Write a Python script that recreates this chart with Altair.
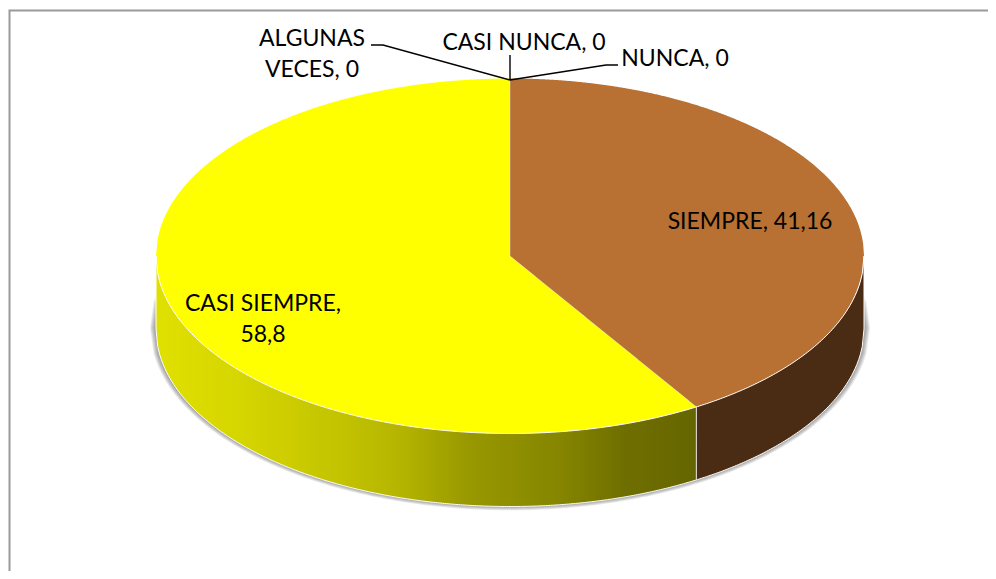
import math
import altair as alt
import pandas as pd

# Data
categories = ["SIEMPRE", "CASI SIEMPRE", "ALGUNAS\nVECES", "CASI NUNCA", "NUNCA"]
values = [41.16, 58.8, 0, 0, 0]
value_labels = ["41,16", "58,8", "0", "0", "0"]
label_x = [750, 263, 312, 524, 675]
label_y = [222, 304, 39, 43, 59]
slice_colors = ["#B87033", "#FFFF00"]
wall_dark = "#4A2B13"
gradient_offsets = [0, 0.15, 0.35, 0.45, 0.58, 0.75, 0.87, 1]
gradient_colors = ["#E0E000", "#D6D600", "#C2C200", "#B5B500", "#989800", "#858500", "#6E6E00", "#666600"]
leader_x = [[371, 383, 510], [510, 510], [510, 606, 618]]
leader_y = [[45, 45, 80], [55, 80], [80, 65, 65]]

# Layout of the tilted disc (page pixels)
CX, CY, RX, RY, DEPTH = 510, 256, 354, 177.5, 73
W, H = 980, 563


def top(x, rx=RX, ry=RY, cy=CY):
    return cy - ry * math.sqrt(max(0, 1 - ((x - CX) / rx) ** 2))


def bottom(x, rx=RX, ry=RY, cy=CY):
    return cy + ry * math.sqrt(max(0, 1 - ((x - CX) / rx) ** 2))


def span(a, b, n=200):
    return [a + (b - a) * i / n for i in range(n + 1)]


angle = 2 * math.pi * values[0] / sum(values)
xb = CX + RX * math.sin(angle)
yb = CY - RY * math.cos(angle)


def radial(x):
    return CY + (yb - CY) * (x - CX) / (xb - CX)


def area_df(rows):
    return pd.DataFrame([{"x": x, "y": y, "y2": y2} for x, y, y2 in rows])


X = alt.X("x:Q", scale=alt.Scale(domain=[8, 8 + W], nice=False, zero=False), axis=None)
Y = alt.Y("y:Q", scale=alt.Scale(domain=[8 + H, 8], nice=False, zero=False), axis=None)
Y2 = alt.Y2("y2:Q")
O = alt.Order("i:Q")


def area(rows, **kw):
    return alt.Chart(area_df(rows)).mark_area(interpolate="linear", **kw).encode(x=X, y=Y, y2=Y2)


def line(xs, ys, **kw):
    df = pd.DataFrame({"x": xs, "y": ys, "i": range(len(xs))})
    return alt.Chart(df).mark_line(interpolate="linear", **kw).encode(x=X, y=Y, order=O)


layers = []

# Frame
layers.append(line([988, 9.5, 9.5], [10.5, 10.5, 571], color="#9A9A9A", strokeWidth=2))

# Soft shadow
for k in [6, 5, 4, 3, 2, 1]:
    rx, ry, cy = RX + k, RY + k * 0.8, CY + DEPTH - 1
    layers.append(
        area(
            [(x, top(x, rx, ry, cy), bottom(x, rx, ry, cy)) for x in span(CX - rx, CX + rx)],
            color="#404040",
            opacity=0.11,
        )
    )

# Side walls
grad = alt.Gradient(
    gradient="linear",
    x1=0, x2=1, y1=0, y2=0,
    stops=[alt.GradientStop(offset=o, color=c) for o, c in zip(gradient_offsets, gradient_colors)],
)
layers.append(
    area([(x, bottom(x), bottom(x) + DEPTH) for x in span(CX - RX, xb)], color=grad)
)
layers.append(
    area([(x, bottom(x), bottom(x) + DEPTH) for x in span(xb, CX + RX)], color=wall_dark)
)

# Top slices
brown_rows = [(x, top(x), radial(x)) for x in span(CX, xb)] + [
    (x, top(x), bottom(x)) for x in span(xb + 1e-6, CX + RX)
]
yellow_rows = [(x, top(x), bottom(x)) for x in span(CX - RX, CX)] + [
    (x, radial(x), bottom(x)) for x in span(CX + 1e-6, xb)
]
layers.append(area(brown_rows, color=slice_colors[0]))
layers.append(area(yellow_rows, color=slice_colors[1]))

# White edges
edge = dict(color="#FFFFFF", strokeWidth=1)
xs = span(CX - RX, CX + RX, 400)
layers.append(line(xs, [bottom(x) for x in xs], **edge))
low = [CX - RX] + xs + [CX + RX]
low_y = [CY] + [bottom(x) + DEPTH for x in xs] + [CY]
layers.append(line(low, low_y, **edge))
layers.append(line([xb, xb], [yb, yb + DEPTH], color="#E8E8E8", strokeWidth=1))
layers.append(line([CX, CX, xb], [top(CX), CY, yb], color="#FFFFFF", strokeWidth=0.6, opacity=0.6))

# Leader lines
for lx, ly in zip(leader_x, leader_y):
    layers.append(line(lx, ly, color="#000000", strokeWidth=1.4))

# Labels
labels = pd.DataFrame(
    {
        "text": [f"{c}, {v}" for c, v in zip(categories, value_labels)],
        "x": label_x,
        "y": label_y,
    }
)
labels.loc[1, "text"] = "CASI SIEMPRE,\n58,8"
layers.append(
    alt.Chart(labels)
    .mark_text(font="Lato", fontSize=23, color="#000000", align="center", baseline="middle", lineBreak="\n", lineHeight=31)
    .encode(x=X, y=Y, text="text:N")
)

chart = (
    alt.layer(*layers)
    .properties(width=W, height=H, padding=0, background="#FFFFFF", autosize=alt.AutoSizeParams(type="none"))
    .configure_view(stroke=None)
)
chart.save("out.html", embed_options={"renderer": "svg", "actions": False})
